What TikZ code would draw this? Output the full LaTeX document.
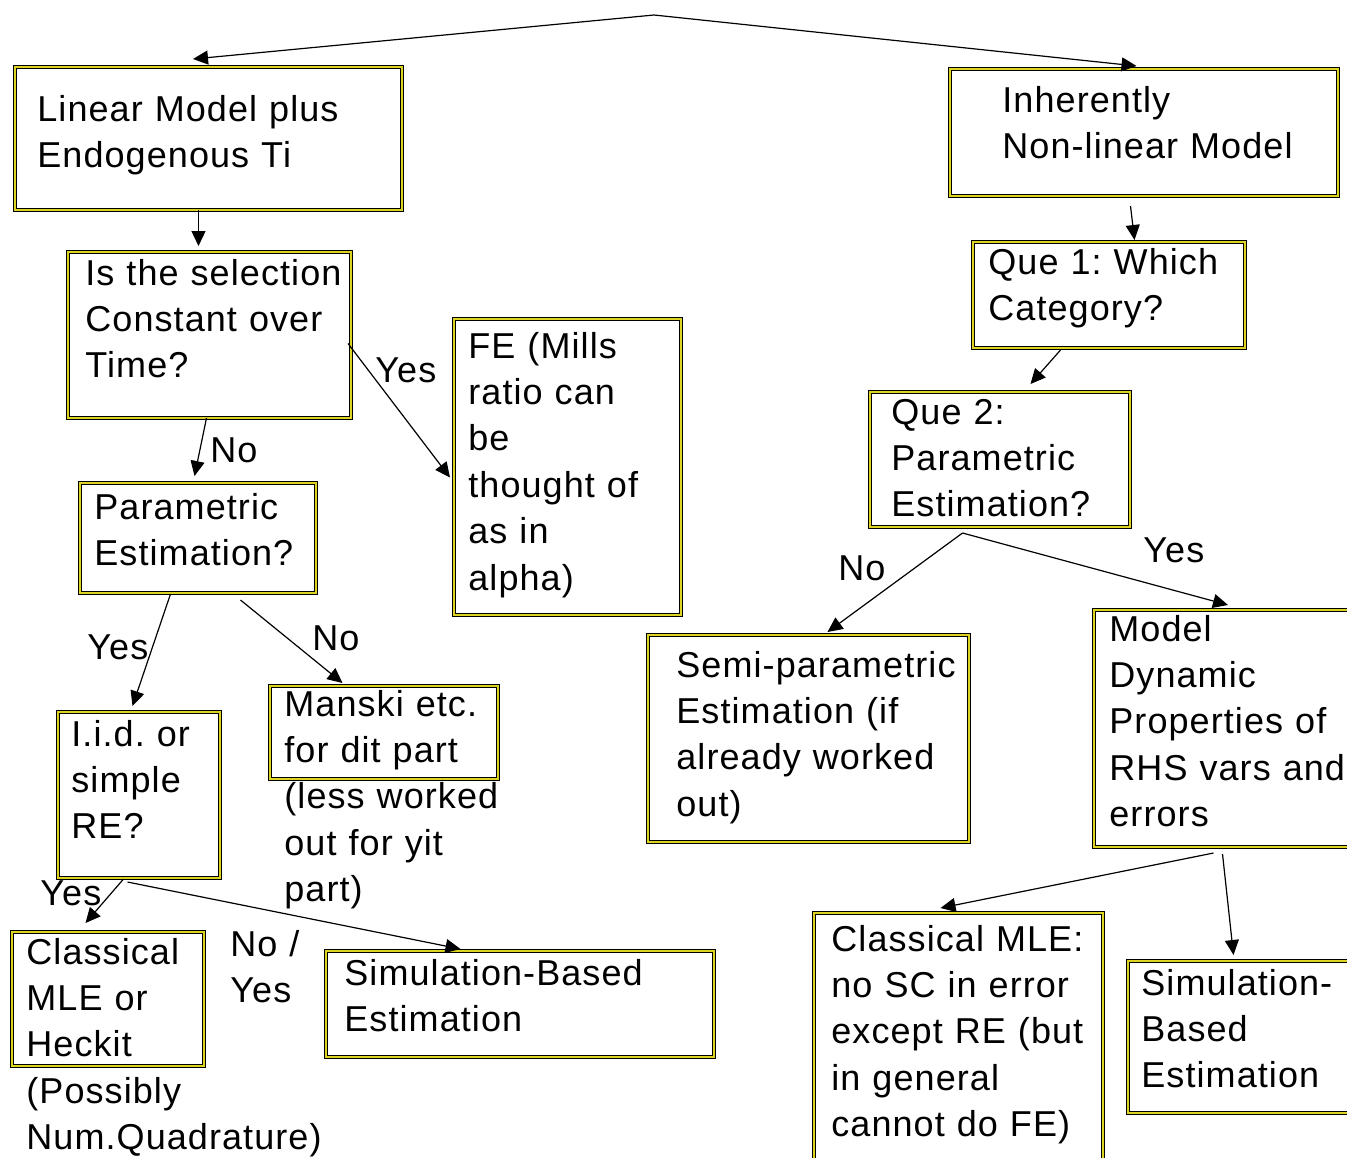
\documentclass[tikz,border=0pt]{standalone}
\usepackage{fontspec}
\setmainfont{Liberation Sans}[LetterSpace=3.0]
\usepackage{tikz}
\usetikzlibrary{arrows.meta,calc}
\frenchspacing

\begin{document}
\begin{tikzpicture}[x=0.5pt, y=-0.5pt,
    font=\fontsize{18}{23.2}\selectfont,
    box/.style={draw=black, line width=0.5pt, double=yellow!85!black, double distance=1pt, anchor=north west, inner sep=0pt},
    txt/.style={anchor=base west, inner sep=0pt, text width=300pt, align=left},
    lab/.style={anchor=base west, inner sep=0pt},
    link/.style={line width=0.6pt, -{Triangle[length=7.5pt,width=7pt]}}]
    \useasboundingbox (0,0) rectangle (1347,1157);
    \fill[white] (0,0) rectangle (1347,1157);

    % boxes
    \node[box, minimum width=193.5pt, minimum height=71.5pt] (lin) at (14,66) {};
    \node[box, minimum width=194pt, minimum height=63.5pt] (inh) at (949,68) {};
    \node[box, minimum width=141.5pt, minimum height=83pt] (sel) at (67,251) {};
    \node[box, minimum width=136pt, minimum height=53pt] (que1) at (972,241) {};
    \node[box, minimum width=113.5pt, minimum height=148pt] (fe) at (453,318) {};
    \node[box, minimum width=130pt, minimum height=67.5pt] (que2) at (869,391) {};
    \node[box, minimum width=118pt, minimum height=55pt] (par) at (79,482) {};
    \node[box, minimum width=160.5pt, minimum height=103.5pt] (semi) at (647,634) {};
    \node[box, minimum width=134.5pt, minimum height=118.5pt] (dyn) at (1093,609) {};
    \node[box, minimum width=81pt, minimum height=83pt] (iid) at (57,711) {};
    \node[box, minimum width=114pt, minimum height=46.5pt] (man) at (269,685) {};
    \node[box, minimum width=96pt, minimum height=67pt] (cla) at (11,931) {};
    \node[box, minimum width=194pt, minimum height=53pt] (simL) at (325,950) {};
    \node[box, minimum width=144.5pt, minimum height=129pt] (mle) at (813,912) {};
    \node[box, minimum width=116.5pt, minimum height=76pt] (simR) at (1127,960) {};

    % texts
    \node[txt] (linT) at (37,121) {Linear Model plus\\Endogenous Ti};
    \node[txt] (inhT) at (1002,112) {Inherently\\Non-linear Model};
    \node[txt] (selT) at (85,285) {Is the selection\\Constant over\\Time?};
    \node[txt] (que1T) at (988,274) {Que 1: Which\\Category?};
    \node[txt] (feT) at (468,358) {FE (Mills\\ratio can\\be\\thought of\\as in\\alpha)};
    \node[txt] (que2T) at (891,424) {Que 2:\\Parametric\\Estimation?};
    \node[txt] (parT) at (94,519) {Parametric\\Estimation?};
    \node[txt] (semiT) at (676,677) {Semi-parametric\\Estimation (if\\already worked\\out)};
    \node[txt] (dynT) at (1109,641) {Model\\Dynamic\\Properties of\\RHS vars and\\errors};
    \node[txt] (iidT) at (71,746) {I.i.d. or\\simple\\RE?};
    \node[txt] (manT) at (284,716) {Manski etc.\\for dit part\\(less worked\\out for yit\\part)};
    \node[txt] (claT) at (26,964) {Classical\\MLE or\\Heckit\\(Possibly\\Num.Quadrature)};
    \node[txt] (simLT) at (344,985) {Simulation-Based\\Estimation};
    \node[txt] (mleT) at (831,951) {Classical MLE:\\no SC in error\\except RE (but\\in general\\cannot do FE)};
    \node[txt] (simRT) at (1141,995) {Simulation-\\Based\\Estimation};

    % answers
    \node[lab] (yes1) at (375,382) {Yes};
    \node[lab] (no1) at (210,462) {No};
    \node[lab] (yes2) at (87,659) {Yes};
    \node[lab] (no2) at (312,650) {No};
    \node[lab] (yes3) at (40,905) {Yes};
    \node[txt] (noyes) at (230,956) {No /\\Yes};
    \node[lab] (no3) at (838,580) {No};
    \node[lab] (yes4) at (1143,562) {Yes};

    % arrows
    \coordinate (top) at (654,15);
    \draw[link] (top) -- ($(lin.north)+(-15,-7)$);
    \draw[link] (top) -- ($(inh.north)+(-7,-2)$);
    \draw[link] ($(lin.south)+(-9.5,0)$) -- ($(sel.north)+(-10.5,-5)$);
    \draw[link] ($(inh.south)+(-13,10)$) -- ($(que1.north)+(26,-1)$);
    \draw[link] ($(que1.south)+(-48,2)$) -- ($(que2.north)+(31,-7)$);
    \draw[link] ($(sel.east)+(-3,9)$) -- ($(fe.west)+(-3,11)$);
    \draw[link] ($(sel.south)+(-2.5,0)$) -- ($(par.north)+(-3,-6)$);
    \draw[link] ($(par.south)+(-27,1)$) -- ($(iid.north)+(-6,-5)$);
    \draw[link] ($(par.south)+(43,7)$) -- ($(man.north)+(-41,-2)$);
    \draw[link] ($(iid.south)+(-15,1)$) -- ($(cla.north)+(-22,-8)$);
    \draw[link] ($(iid.south)+(-11,4)$) -- ($(simL.north)+(-59,-1)$);
    \draw[link] ($(que2.south)+(-37,6)$) -- ($(semi.north)+(19.5,-2)$);
    \draw[link] ($(que2.south)+(-37,6)$) -- ($(dyn.north)+(0,-4)$);
    \draw[link] ($(dyn.south)+(-14.5,6)$) -- ($(mle.north)+(-17.5,-4)$);
    \draw[link] ($(dyn.south)+(-5.5,7)$) -- ($(simR.north)+(-10.5,-5)$);
\end{tikzpicture}
\end{document}
